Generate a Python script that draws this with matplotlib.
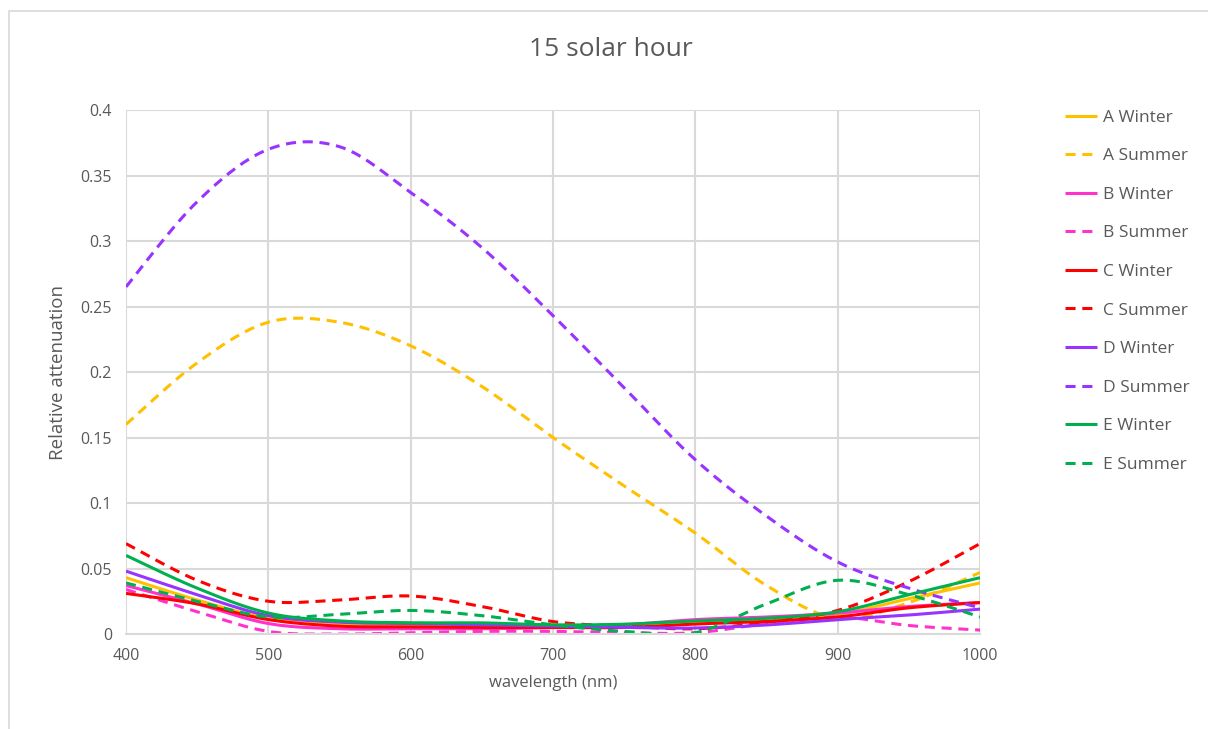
import numpy as np
import matplotlib
matplotlib.use("Agg")
import matplotlib.pyplot as plt
from matplotlib.patches import Rectangle

wavelength = [400, 450, 500, 550, 600, 650, 700, 750, 800, 850, 900, 950, 1000]

a_winter = [0.043, 0.026, 0.012, 0.008, 0.007, 0.006, 0.006, 0.006, 0.009, 0.011, 0.015, 0.027, 0.039]
a_summer = [0.160, 0.207, 0.238, 0.238, 0.220, 0.189, 0.150, 0.113, 0.077, 0.037, 0.012, 0.024, 0.047]
b_winter = [0.037, 0.023, 0.008, 0.004, 0.004, 0.004, 0.005, 0.007, 0.011, 0.013, 0.016, 0.021, 0.024]
b_summer = [0.034, 0.017, 0.002, 0.000, 0.001, 0.002, 0.002, 0.001, 0.001, 0.008, 0.013, 0.0065, 0.003]
c_winter = [0.031, 0.023, 0.011, 0.006, 0.0055, 0.005, 0.005, 0.005, 0.0076, 0.0096, 0.013, 0.020, 0.024]
c_summer = [0.069, 0.041, 0.025, 0.026, 0.029, 0.021, 0.0095, 0.006, 0.004, 0.009, 0.018, 0.040, 0.069]
d_winter = [0.048, 0.030, 0.014, 0.009, 0.008, 0.007, 0.006, 0.005, 0.0046, 0.0069, 0.011, 0.0145, 0.019]
d_summer = [0.265, 0.330, 0.370, 0.372, 0.337, 0.295, 0.243, 0.188, 0.133, 0.090, 0.055, 0.035, 0.020]
e_winter = [0.060, 0.035, 0.016, 0.010, 0.0086, 0.0085, 0.007, 0.0075, 0.010, 0.012, 0.017, 0.030, 0.043]
e_summer = [0.039, 0.025, 0.013, 0.015, 0.018, 0.014, 0.007, 0.002, 0.001, 0.023, 0.041, 0.030, 0.013]

labels = ["A Winter", "A Summer", "B Winter", "B Summer", "C Winter",
          "C Summer", "D Winter", "D Summer", "E Winter", "E Summer"]
series = [a_winter, a_summer, b_winter, b_summer, c_winter,
          c_summer, d_winter, d_summer, e_winter, e_summer]
colors = ["#FFC000", "#FFC000", "#FF33CC", "#FF33CC", "#FF0000",
          "#FF0000", "#9933FF", "#9933FF", "#00B050", "#00B050"]

GREY = "#595959"
GRID = "#d9d9d9"


def smooth(x, y, n=20):
    # Excel-style smoothed line (Catmull-Rom through the points)
    x = np.asarray(x, float)
    y = np.asarray(y, float)
    xs, ys = [], []
    for i in range(len(x) - 1):
        p0 = (x[max(i - 1, 0)], y[max(i - 1, 0)])
        p1 = (x[i], y[i])
        p2 = (x[i + 1], y[i + 1])
        p3 = (x[min(i + 2, len(x) - 1)], y[min(i + 2, len(x) - 1)])
        t = np.linspace(0, 1, n, endpoint=False)
        for k in range(2):
            a, b, c, d = p0[k], p1[k], p2[k], p3[k]
            v = 0.5 * ((2 * b) + (-a + c) * t + (2 * a - 5 * b + 4 * c - d) * t ** 2
                       + (-a + 3 * b - 3 * c + d) * t ** 3)
            (xs if k == 0 else ys).append(v)
    xs.append([x[-1]])
    ys.append([y[-1]])
    return np.concatenate(xs), np.concatenate(ys)


plt.rcParams["font.family"] = ["Open Sans", "DejaVu Sans"]

fig = plt.figure(figsize=(12.08, 7.29), dpi=100)
ax = fig.add_axes([0.1043, 0.1303, 0.7070, 0.7188])

# chart area border
fig.add_artist(Rectangle((0.0075, -0.1), 1.2, 1.085, transform=fig.transFigure,
                         fill=False, edgecolor=GRID, linewidth=1.2))

handles = []
for lab, vals, col in zip(labels, series, colors):
    xs, ys = smooth(wavelength, vals)
    ls = (0, (3.3, 2.2)) if "Summer" in lab else "-"
    h, = ax.plot(xs, ys, color=col, linewidth=2.2, linestyle=ls, label=lab,
                 solid_capstyle="butt", dash_capstyle="butt")
    handles.append(h)

ax.set_xlim(400, 1000)
ax.set_ylim(0, 0.4)
ax.set_xticks(range(400, 1001, 100))
ax.set_yticks(np.arange(0, 0.401, 0.05))
ax.set_yticklabels(["0", "0.05", "0.1", "0.15", "0.2", "0.25", "0.3", "0.35", "0.4"])
ax.grid(True, color=GRID, linewidth=1.5)
ax.set_axisbelow(True)
for s in ["top", "right", "left"]:
    ax.spines[s].set_visible(False)
ax.spines["bottom"].set_color(GRID)
ax.spines["bottom"].set_linewidth(1.5)
ax.tick_params(length=0, colors=GREY, labelsize=11.5, pad=10)

ax.set_xlabel("wavelength (nm)", color=GREY, fontsize=12, labelpad=8)
ax.set_ylabel("Relative attenuation", color=GREY, fontsize=13.5, labelpad=10)
fig.text(0.506, 0.932, "15 solar hour", ha="center", va="center", color=GREY, fontsize=19)

leg = fig.legend(handles=handles, loc="upper left", bbox_to_anchor=(0.869, 0.871),
                 frameon=False, fontsize=12.5, handlelength=1.8, handletextpad=0.35,
                 labelspacing=1.29, labelcolor=GREY)

fig.savefig("out.png", dpi=100)
